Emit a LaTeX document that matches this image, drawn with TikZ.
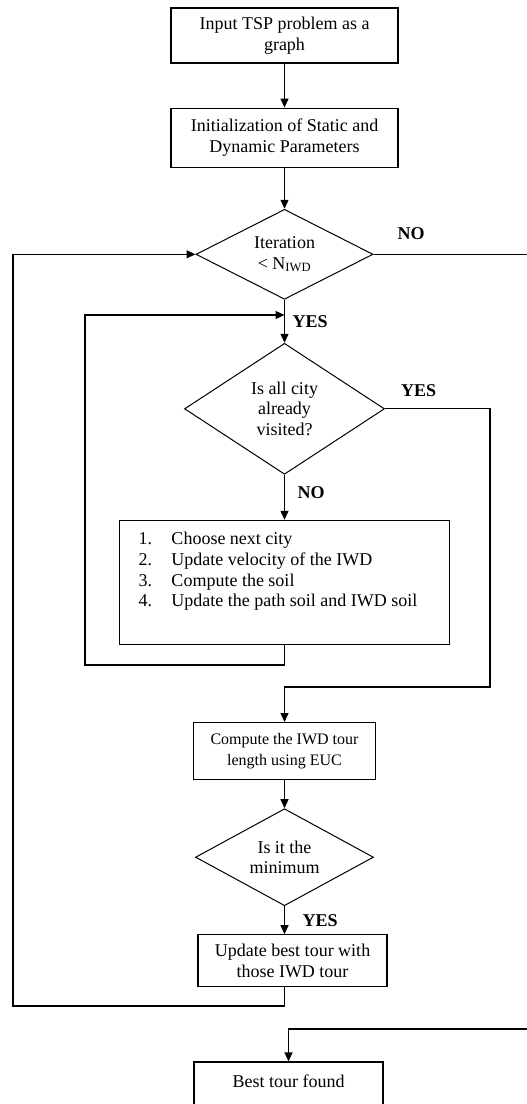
\documentclass[tikz,border=0pt]{standalone}
\usepackage{fontspec}
\setmainfont{Liberation Serif}
\usetikzlibrary{shapes.geometric,arrows.meta,positioning}

\begin{document}
\begin{tikzpicture}[x=1pt,y=1pt]
\tikzstyle{blk}=
[
	draw, rectangle, line width=1.2pt,
	align=center, inner sep=0pt,
	font=\fontsize{18}{20.7}\selectfont
]
\tikzstyle{decide}=
[
	draw, diamond, aspect=1.5, line width=1pt,
	align=center, inner sep=0pt,
	font=\fontsize{18}{20.7}\selectfont
]
\tikzstyle{lbl}=[font=\fontsize{18}{20.7}\selectfont\bfseries, inner sep=0pt]
\tikzstyle{conn}=[line width=1.2pt]
\tikzstyle{arrow}=[conn, -{Triangle[length=9pt,width=8pt]}]

\path[use as bounding box, clip] (0,0) rectangle (527,-1104);

\node[blk, minimum width=227pt, minimum height=55pt] (b1) at (284.5,-35.5)
	{Input TSP problem as a\\graph};
\node[blk, below=44pt of b1, minimum width=227pt, minimum height=59pt] (b2)
	{Initialization of Static and\\Dynamic Parameters};
\node[decide, below=41pt of b2, minimum width=177pt, minimum height=90pt] (d1)
	{Iteration\\< N\textsubscript{IWD}};
\node[decide, below=43pt of d1, minimum width=200pt, minimum height=131pt] (d2)
	{Is all city\\already\\visited?};
\node[blk, below=45pt of d2, minimum width=330pt, minimum height=124pt,
	inner xsep=19pt, inner ysep=12pt] (b3)
	{\parbox[c][100pt][t]{292pt}{\raggedright
	\makebox[33pt][l]{1.}Choose next city\\
	\makebox[33pt][l]{2.}Update velocity of the IWD\\
	\makebox[33pt][l]{3.}Compute the soil\\
	\makebox[33pt][l]{4.}Update the path soil and IWD soil}};
\node[blk, below=77pt of b3, minimum width=182pt, minimum height=57pt,
	font=\fontsize{16}{20.7}\selectfont] (b4)
	{Compute the IWD tour\\length using EUC};
\node[decide, below=28pt of b4, minimum width=178pt, minimum height=97pt] (d3)
	{Is it the\\minimum};
\node[blk, below=28pt of d3, xshift=8pt, minimum width=189pt, minimum height=52pt] (b5)
	{Update best tour with\\those IWD tour};
\node[blk, below=74pt of b5, xshift=-4pt, minimum width=189pt,
	text height=12.5pt, text depth=70pt, inner ysep=13pt] (best)
	{Best tour found};

% turning points of the loops
\coordinate (lp1) at (13,-1006);
\coordinate (lp2) at (85,-665);
\coordinate (lp3) at (490,-687);
\coordinate (rim) at (545,-1029);
\coordinate (j2) at (284.5,-315);

\draw[arrow] (b1) -- (b2);
\draw[arrow] (b2) -- (d1);
\draw[arrow] (d1) -- node[lbl, right=7.5pt] {YES} (d2);
\draw[arrow] (d2) -- node[lbl, right=12.5pt, pos=0.4] {NO} (b3);
\draw[arrow] (d3.south) -- node[lbl, right=17.5pt] {YES} (d3.south |- b5.north);
\draw[arrow] (b4) -- (d3);

\draw[arrow] (b3.south) |- (lp2) |- (j2);
\draw[arrow] (b5.south -| d3.south) |- (lp1) |- (d1.west);
\draw[arrow] (d2.east) -| node[lbl, above=12pt, pos=0.16] {YES} (lp3) -| (b4.north);
\draw[arrow] (d1.east) -| node[lbl, above=14pt, pos=0.11] {NO} (rim) -| (best.north);
\end{tikzpicture}
\end{document}
